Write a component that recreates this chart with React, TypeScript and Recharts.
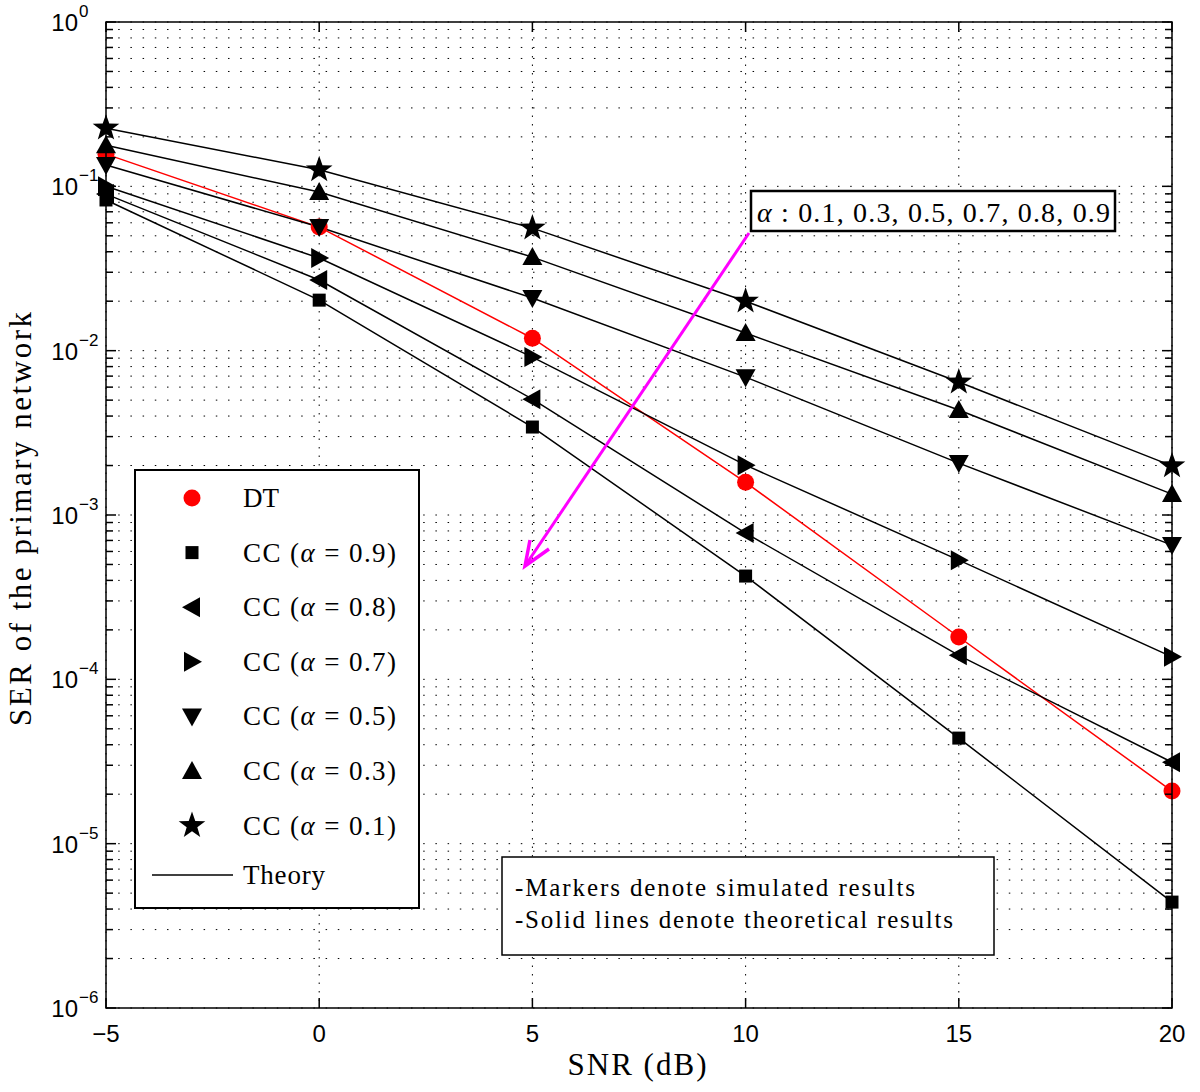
import React from 'react';
import { LineChart, Line, XAxis, YAxis, CartesianGrid } from 'recharts';

// SNR points (dB) and SER
const SNR = [-5, 0, 5, 10, 15, 20];
const SER_DT = [0.157, 0.0565, 0.0119, 0.00158, 0.000181, 2.09e-5];
const SER_A09 = [0.0826, 0.0203, 0.00343, 0.000425, 4.39e-5, 4.41e-6];
const SER_A08 = [0.0897, 0.0269, 0.00507, 0.000776, 0.00014, 3.13e-5];
const SER_A07 = [0.1, 0.0366, 0.00914, 0.00201, 0.000531, 0.000137];
const SER_A05 = [0.135, 0.0565, 0.0209, 0.0069, 0.00207, 0.000656];
const SER_A03 = [0.178, 0.0923, 0.0371, 0.0128, 0.00435, 0.00134];
const SER_A01 = [0.226, 0.126, 0.0557, 0.02, 0.00644, 0.00199];

const X_TICKS = [-5, 0, 5, 10, 15, 20];
const DECADES = [-6, -5, -4, -3, -2, -1, 0];

const SERIES = [
    { key: 'dt', label: 'DT', alpha: '', values: SER_DT, color: '#ff0000', shape: 'circle' },
    { key: 'a09', label: 'CC', alpha: '0.9', values: SER_A09, color: '#000', shape: 'square' },
    { key: 'a08', label: 'CC', alpha: '0.8', values: SER_A08, color: '#000', shape: 'left' },
    { key: 'a07', label: 'CC', alpha: '0.7', values: SER_A07, color: '#000', shape: 'right' },
    { key: 'a05', label: 'CC', alpha: '0.5', values: SER_A05, color: '#000', shape: 'down' },
    { key: 'a03', label: 'CC', alpha: '0.3', values: SER_A03, color: '#000', shape: 'up' },
    { key: 'a01', label: 'CC', alpha: '0.1', values: SER_A01, color: '#000', shape: 'star' },
];

const rows = SNR.map((snr, i) => {
    const row: Record<string, number> = { snr };
    SERIES.forEach((s) => {
        row[s.key] = s.values[i];
    });
    return row;
});

// log axis ticks: decades plus 2..9 minors
const Y_TICKS: number[] = [];
DECADES.forEach((d) => {
    Y_TICKS.push(Number((10 ** d).toPrecision(3)));
    if (d < 0) {
        for (let m = 2; m <= 9; m++) Y_TICKS.push(Number((m * 10 ** d).toPrecision(3)));
    }
});

const W = 1200;
const H = 1092;
const LEFT = 106;
const RIGHT = 1172;
const TOP = 22;
const BOTTOM = 1008;

const SANS = '"Liberation Sans", Arial, sans-serif';
const SERIF = '"Liberation Serif", "Times New Roman", serif';

const Marker = ({ shape, cx, cy, color }: { shape: string; cx: number; cy: number; color: string }) => {
    switch (shape) {
        case 'circle':
            return <circle cx={cx} cy={cy} r={8.5} fill={color} />;
        case 'square':
            return <rect x={cx - 6.5} y={cy - 6.5} width={13} height={13} fill={color} />;
        case 'left':
            return <polygon points={`${cx - 10},${cy} ${cx + 8},${cy - 10} ${cx + 8},${cy + 10}`} fill={color} />;
        case 'right':
            return <polygon points={`${cx + 10},${cy} ${cx - 8},${cy - 10} ${cx - 8},${cy + 10}`} fill={color} />;
        case 'down':
            return <polygon points={`${cx - 10},${cy - 8} ${cx + 10},${cy - 8} ${cx},${cy + 10}`} fill={color} />;
        case 'up':
            return <polygon points={`${cx - 10},${cy + 8} ${cx + 10},${cy + 8} ${cx},${cy - 10}`} fill={color} />;
        case 'star': {
            const pts: string[] = [];
            for (let i = 0; i < 10; i++) {
                const r = i % 2 === 0 ? 14 : 5.6;
                const a = -Math.PI / 2 + (i * Math.PI) / 5;
                pts.push(`${cx + r * Math.cos(a)},${cy + r * Math.sin(a)}`);
            }
            return <polygon points={pts.join(' ')} fill={color} />;
        }
        default:
            return null;
    }
};

const XTick = (props: any) => {
    const { x, payload } = props;
    const v = payload.value as number;
    const label = v < 0 ? `\u2212${Math.abs(v)}` : `${v}`;
    return (
        <g>
            <line x1={x} x2={x} y1={BOTTOM} y2={BOTTOM - 10} stroke="#000" strokeWidth={1.5} />
            <line x1={x} x2={x} y1={TOP} y2={TOP + 10} stroke="#000" strokeWidth={1.5} />
            <text x={x} y={BOTTOM + 34} textAnchor="middle" fontFamily={SANS} fontSize={24} fill="#000">
                {label}
            </text>
        </g>
    );
};

const YTick = (props: any) => {
    const { y, payload } = props;
    const v = payload.value as number;
    const exp = Math.round(Math.log10(v));
    const isDecade = Math.abs(v - 10 ** exp) < 1e-12 * 10 ** exp + 1e-15;
    const len = isDecade ? 10 : 7;
    return (
        <g>
            <line x1={LEFT} x2={LEFT + len} y1={y} y2={y} stroke="#000" strokeWidth={1.5} />
            <line x1={RIGHT} x2={RIGHT - len} y1={y} y2={y} stroke="#000" strokeWidth={1.5} />
            {isDecade && (
                <g fontFamily={SANS} fill="#000">
                    <text x={78} y={y + 9} textAnchor="end" fontSize={24}>
                        10
                    </text>
                    <text x={79} y={y - 5} textAnchor="start" fontSize={17}>
                        {exp < 0 ? `\u2212${Math.abs(exp)}` : `${exp}`}
                    </text>
                </g>
            )}
        </g>
    );
};

const LegendBox = () => (
    <g>
        <rect x={135} y={470} width={284} height={438} fill="#fff" stroke="#000" strokeWidth={2} />
        {SERIES.map((s, i) => {
            const y = 498 + i * 54.6;
            return (
                <g key={s.key}>
                    <Marker shape={s.shape} cx={192} cy={y} color={s.color} />
                    {s.alpha ? (
                        <text x={243} y={y + 9} fontFamily={SERIF} fontSize={27} fill="#000" textLength={153} lengthAdjust="spacing">
                            {s.label} (<tspan fontStyle="italic">α</tspan> = {s.alpha})
                        </text>
                    ) : (
                        <text x={243} y={y + 9} fontFamily={SERIF} fontSize={27} fill="#000">
                            {s.label}
                        </text>
                    )}
                </g>
            );
        })}
        <line x1={152} x2={233} y1={875} y2={875} stroke="#000" strokeWidth={1.5} />
        <text x={243} y={884} fontFamily={SERIF} fontSize={27} fill="#000" textLength={82} lengthAdjust="spacing">
            Theory
        </text>
    </g>
);

const Annotations = () => (
    <g>
        {/* alpha sweep arrow */}
        <line x1={749} y1={233} x2={527} y2={563} stroke="#ff00ff" strokeWidth={3} />
        <polyline points="530,540 525,566 549,549" fill="none" stroke="#ff00ff" strokeWidth={3.5} strokeLinejoin="miter" />
        <rect x={751} y={191} width={364} height={40} fill="#fff" stroke="#000" strokeWidth={2.5} />
        <text x={757} y={222} fontFamily={SERIF} fontSize={28} fill="#000" textLength={353} lengthAdjust="spacing">
            <tspan fontStyle="italic">α</tspan> : 0.1, 0.3, 0.5, 0.7, 0.8, 0.9
        </text>
        <rect x={502} y={857} width={492} height={98} fill="#fff" stroke="#000" strokeWidth={1.5} />
        <text x={515} y={896} fontFamily={SERIF} fontSize={25} fill="#000" textLength={400} lengthAdjust="spacing">
            -Markers denote simulated results
        </text>
        <text x={515} y={928} fontFamily={SERIF} fontSize={25} fill="#000" textLength={438} lengthAdjust="spacing">
            -Solid lines denote theoretical results
        </text>
        {/* axis titles */}
        <text x={637} y={1075} textAnchor="middle" fontFamily={SERIF} fontSize={31} fill="#000" textLength={139} lengthAdjust="spacing">
            SNR (dB)
        </text>
        <text
            x={0}
            y={0}
            transform={`translate(31, 519) rotate(-90)`}
            textAnchor="middle"
            fontFamily={SERIF}
            fontSize={31}
            fill="#000"
            textLength={414}
            lengthAdjust="spacing"
        >
            SER of the primary network
        </text>
        <rect x={LEFT} y={TOP} width={RIGHT - LEFT} height={BOTTOM - TOP} fill="none" stroke="#000" strokeWidth={1.5} />
    </g>
);

export default function App() {
    return (
        <div style={{ position: 'absolute', left: 0, top: 0, width: W, height: H, background: '#fff' }}>
            <LineChart width={W} height={H} data={rows} margin={{ top: TOP, right: W - RIGHT, bottom: 0, left: 0 }}>
                <CartesianGrid horizontal={false} stroke="#000" strokeDasharray="1.5 7" strokeWidth={1} />
                <CartesianGrid vertical={false} stroke="#000" strokeDasharray="1.5 10.7" strokeWidth={1} />
                <XAxis
                    dataKey="snr"
                    type="number"
                    domain={[-5, 20]}
                    ticks={X_TICKS}
                    interval={0}
                    height={H - BOTTOM}
                    axisLine={false}
                    tickLine={false}
                    tick={<XTick />}
                />
                <YAxis
                    type="number"
                    scale="log"
                    domain={[1e-6, 1]}
                    ticks={Y_TICKS}
                    interval={0}
                    allowDataOverflow
                    width={LEFT}
                    axisLine={false}
                    tickLine={false}
                    tick={<YTick />}
                />
                {SERIES.map((s) => (
                    <Line
                        key={s.key}
                        dataKey={s.key}
                        type="linear"
                        stroke={s.color}
                        strokeWidth={1.5}
                        isAnimationActive={false}
                        dot={(p: any) => <Marker key={`${s.key}-${p.index}`} shape={s.shape} cx={p.cx} cy={p.cy} color={s.color} />}
                        activeDot={false}
                    />
                ))}
            </LineChart>
            <svg width={W} height={H} style={{ position: 'absolute', left: 0, top: 0, pointerEvents: 'none' }}>
                <LegendBox />
                <Annotations />
            </svg>
        </div>
    );
}
